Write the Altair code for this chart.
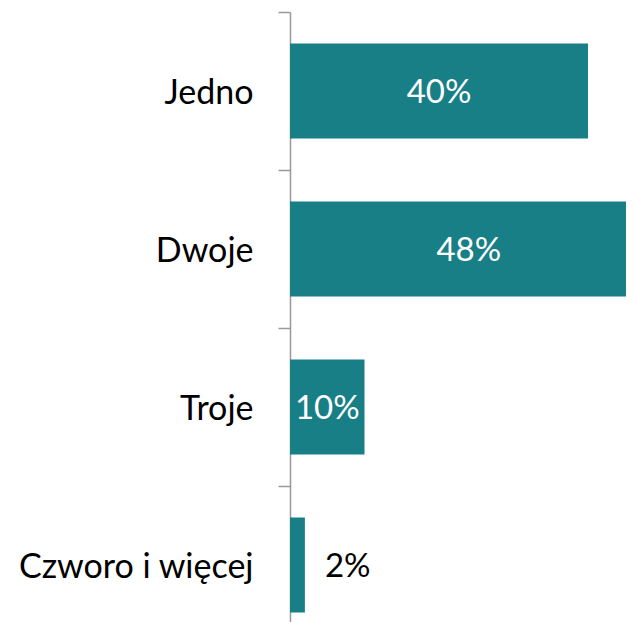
import altair as alt
import pandas as pd

categories = ["Jedno", "Dwoje", "Troje", "Czworo i więcej"]
values = [0.40, 0.48, 0.10, 0.02]
labels = ["40%", "48%", "10%", "2%"]
inside = [True, True, True, False]

df = pd.DataFrame({"kat": categories, "val": values, "lab": labels, "inside": inside})

TEAL = "#187F86"
FONT = "Lato"
FS = 33

y_enc = alt.Y(
    "kat:N",
    sort=categories,
    title=None,
    scale=alt.Scale(range=[0, 632], paddingInner=0.4, paddingOuter=0.2),
    axis=alt.Axis(
        labelFont=FONT,
        labelFontSize=34,
        labelColor="black",
        labelPadding=25,
        labelLimit=400,
        labelOffset=81,
        tickSize=12,
        tickOffset=-79,
        tickColor="#999999",
        tickWidth=1.5,
        domainColor="#999999",
        domainWidth=1.5,
    ),
)
x_scale = alt.Scale(domain=[0, 0.451], zero=True, nice=False)

base = alt.Chart(df)

bars = base.mark_bar(color=TEAL).encode(
    x=alt.X("val:Q", scale=x_scale, axis=None),
    y=y_enc,
)

text_in = base.transform_filter("datum.inside").transform_calculate(
    mid="datum.val / 2"
).mark_text(color="white", font=FONT, fontSize=FS, align="center", baseline="middle", dy=2).encode(
    x=alt.X("mid:Q", scale=x_scale, axis=None),
    y=alt.Y("kat:N", sort=categories),
    text="lab:N",
)

text_out = base.transform_filter("!datum.inside").mark_text(
    color="black", font=FONT, fontSize=FS, align="left", baseline="middle", dx=20, dy=2
).encode(
    x=alt.X("val:Q", scale=x_scale, axis=None),
    y=alt.Y("kat:N", sort=categories),
    text="lab:N",
)

chart = (
    alt.layer(bars, text_in, text_out)
    .properties(
        width=336,
        height=610,
        autosize=alt.AutoSizeParams(type="none"),
        padding={"left": 282, "top": 4, "right": 0, "bottom": 0},
    )
    .configure_view(stroke=None)
)

chart.save("out.html", embed_options={"renderer": "svg", "actions": False})
